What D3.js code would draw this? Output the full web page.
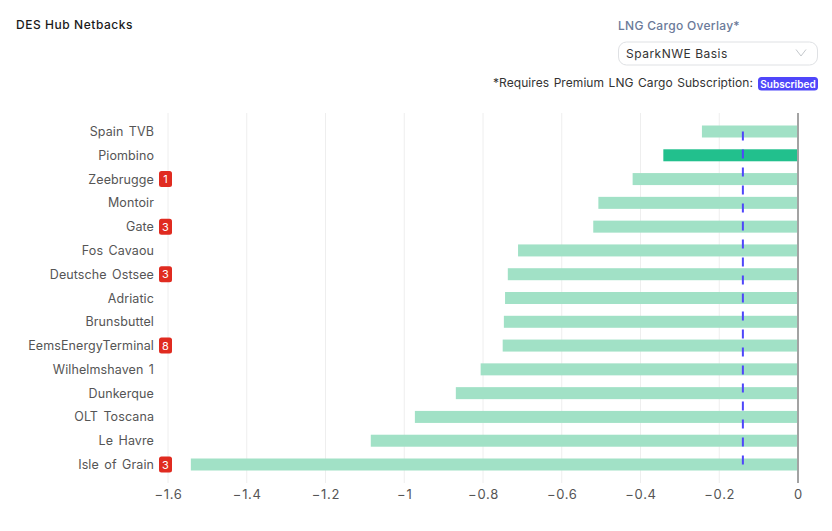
<!DOCTYPE html>
<html>
  <head>
    <meta charset="utf-8">
    <title>DES Hub Netbacks</title>
    <script type="text/javascript" src="https://d3js.org/d3.v7.min.js"></script>
    <style>
      body { margin: 0; background: #fff; }
      svg { display: block; }
      text { font-family: Inter, "Noto Sans", sans-serif; }
    </style>
  </head>
  <body>
    <svg width="832" height="531"></svg>
    <script>
      var hubs = ["Spain TVB", "Piombino", "Zeebrugge", "Montoir", "Gate", "Fos Cavaou", "Deutsche Ostsee", "Adriatic",
        "Brunsbuttel", "EemsEnergyTerminal", "Wilhelmshaven 1", "Dunkerque", "OLT Toscana", "Le Havre", "Isle of Grain"];
      var netbacks = [-0.244, -0.342, -0.42, -0.507, -0.52, -0.711, -0.737, -0.744, -0.747, -0.75, -0.806, -0.869, -0.973, -1.085, -1.542];
      var badges = [null, null, 1, null, 3, null, 3, null, null, 8, null, null, null, null, 3];
      var highlighted = ["Piombino"];
      var overlay = -0.14;
      var xTicks = [-1.6, -1.4, -1.2, -1, -0.8, -0.6, -0.4, -0.2, 0];

      var svg = d3.select("svg");

      var x = d3.scaleLinear().domain([-1.6, 0]).range([168, 798]);
      var y = d3.scalePoint().domain(hubs).range([131.5, 464.5]);
      var barHeight = 12;
      var plotTop = 113, plotBottom = 483;

      // grid lines
      svg.append("g").selectAll("line")
        .data(xTicks.slice(0, -1))
        .enter().append("line")
        .attr("x1", function(d) { return x(d); })
        .attr("x2", function(d) { return x(d); })
        .attr("y1", plotTop)
        .attr("y2", plotBottom)
        .attr("stroke", "#eeeeee")
        .attr("stroke-width", 1);

      // bars
      svg.append("g").selectAll("rect")
        .data(hubs)
        .enter().append("rect")
        .attr("x", function(d, i) { return x(netbacks[i]); })
        .attr("y", function(d) { return y(d) - barHeight / 2; })
        .attr("width", function(d, i) { return x(0) - x(netbacks[i]); })
        .attr("height", barHeight)
        .attr("fill", function(d) { return highlighted.indexOf(d) >= 0 ? "#22c08d" : "#a1e1c6"; });

      // zero line
      svg.append("line")
        .attr("x1", x(0)).attr("x2", x(0))
        .attr("y1", plotTop).attr("y2", plotBottom)
        .attr("stroke", "#a3a3a3").attr("stroke-width", 2);

      // overlay line
      svg.append("line")
        .attr("x1", x(overlay)).attr("x2", x(overlay))
        .attr("y1", y(hubs[0])).attr("y2", y(hubs[hubs.length - 1]))
        .attr("stroke", "#4f46fa").attr("stroke-width", 2)
        .attr("stroke-dasharray", "9,9");

      // x axis
      var xAxis = d3.axisBottom(x).tickValues(xTicks).tickSize(0).tickPadding(0)
        .tickFormat(function(d) { return d3.format("")(d); });
      var gx = svg.append("g").attr("transform", "translate(0,490)").call(xAxis);
      gx.select(".domain").remove();
      gx.selectAll("text").attr("font-size", 13).attr("letter-spacing", "0.7px").attr("fill", "#555").style("font-family", "Inter");

      // y labels
      var yAxis = d3.axisLeft(y).tickSize(0).tickPadding(0);
      var gy = svg.append("g").attr("transform", "translate(154,0)").call(yAxis);
      gy.select(".domain").remove();
      gy.selectAll("text").attr("font-size", 12.5).attr("letter-spacing", "0.1px").attr("word-spacing", "1.8px").attr("fill", "#555").style("font-family", "Inter");

      // badges next to hub names
      var badgeG = svg.append("g").selectAll("g")
        .data(hubs.filter(function(d, i) { return badges[i] !== null; }))
        .enter().append("g")
        .attr("transform", function(d) { return "translate(159," + (y(d) - 8) + ")"; });
      badgeG.append("rect")
        .attr("width", 13).attr("height", 16).attr("rx", 2.5)
        .attr("fill", "#e02b20");
      badgeG.append("text")
        .attr("x", 6.5).attr("y", 12.2)
        .attr("text-anchor", "middle")
        .attr("font-size", 11).attr("fill", "#fff")
        .text(function(d) { return badges[hubs.indexOf(d)]; });

      // header
      svg.append("text").attr("x", 16).attr("y", 29)
        .attr("font-size", 12).attr("font-weight", 500).attr("letter-spacing", "0.55px").attr("fill", "#1a1a1a")
        .text("DES Hub Netbacks");

      svg.append("text").attr("x", 618).attr("y", 30)
        .attr("font-size", 12).attr("font-weight", 500).attr("letter-spacing", "0.3px").attr("fill", "#6b7a99")
        .text("LNG Cargo Overlay*");

      svg.append("rect").attr("x", 618.5).attr("y", 42).attr("width", 199).attr("height", 23).attr("rx", 8)
        .attr("fill", "#fff").attr("stroke", "#dfe1e4");
      svg.append("text").attr("x", 626).attr("y", 58)
        .attr("font-size", 12).attr("letter-spacing", "0.5px").attr("fill", "#333")
        .text("SparkNWE Basis");
      svg.append("path").attr("d", "M796 49.5L801 56L806 49.5")
        .attr("fill", "none").attr("stroke", "#c4c8cc").attr("stroke-width", 1);

      svg.append("text").attr("x", 493).attr("y", 87)
        .attr("font-size", 12).attr("letter-spacing", "0.07px").attr("word-spacing", "1px").attr("fill", "#333")
        .text("*Requires Premium LNG Cargo Subscription:");
      svg.append("rect").attr("x", 758).attr("y", 77).attr("width", 60).attr("height", 13.5).attr("rx", 3.5)
        .attr("fill", "#4f46fa");
      svg.append("text").attr("x", 788).attr("y", 87.5)
        .attr("text-anchor", "middle")
        .attr("font-size", 10).attr("font-weight", 600).attr("fill", "#fff")
        .text("Subscribed");
    </script>
  </body>
</html>
